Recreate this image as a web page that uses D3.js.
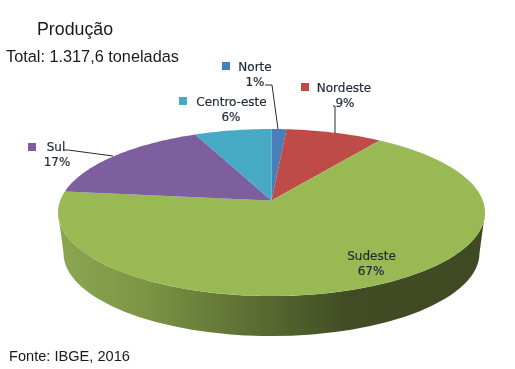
<!DOCTYPE html>
<html>
<head>
<meta charset="utf-8">
<script src="https://cdn.jsdelivr.net/npm/d3@7"></script>
<style>
html, body { margin: 0; padding: 0; background: #fff; }
svg { display: block; filter: blur(0.35px); }
.note { font-family: "Liberation Sans", Arial, sans-serif; fill: #1a1a1a; }
.lbl { font-family: "DejaVu Sans", sans-serif; font-size: 12px; fill: #1f2a36; text-anchor: middle; stroke: #1f2a36; stroke-width: 0.2px; }
</style>
</head>
<body>
<svg id="chart" width="515" height="369"></svg>
<script>
// values, the printed labels are rounded in the source
var regions = ["Norte", "Nordeste", "Sudeste", "Sul", "Centro-este"];
var shares = [1.3, 8.4, 67.1, 16.5, 6.7];
var shareLabels = ["1%", "9%", "67%", "17%", "6%"];
var sliceColors = ["#4a7ebb", "#be4b48", "#98b954", "#7d5fa0", "#46aac5"];

var svg = d3.select("#chart");

// top face: an ellipse seen in perspective, so the apex sits above its centre
var cx = 271.5, cy = 212.5, rx = 213.5, ry = 83.5, apexUp = 12;
var k = apexUp * 2 / (ry * 2);
var ax = rx * Math.sqrt(1 - k * k);

function project(theta) {
    var u = Math.sin(theta), v = Math.cos(theta), w = 1 + k * v;
    return [cx + ax * u / w, cy + (-ry * v - apexUp) / w];
}

// wall under the pie
var defs = svg.append("defs");
var grad = defs.append("linearGradient").attr("id", "wall")
    .attr("gradientUnits", "userSpaceOnUse")
    .attr("x1", 58).attr("x2", 485).attr("y1", 0).attr("y2", 0);
[[0, "#8ca650"], [0.2, "#7d9546"], [0.48, "#586a30"], [0.68, "#414c24"], [1, "#3f4a22"]].forEach(function (s) {
    grad.append("stop").attr("offset", s[0]).attr("stop-color", s[1]);
});

var botY = 253, botRx = 208, botRy = 83;
svg.append("path")
    .attr("d", "M" + (cx - rx) + "," + cy +
        "L" + (cx - botRx) + "," + botY +
        "A" + botRx + "," + botRy + " 0 0 0 " + (cx + botRx) + "," + botY +
        "L" + (cx + rx) + "," + cy +
        "A" + rx + "," + ry + " 0 0 1 " + (cx - rx) + "," + cy + "Z")
    .attr("fill", "url(#wall)");

// slices
var pie = d3.pie().sort(null).value(function (d) { return d; });
var arcs = pie(shares);
var line = d3.line();

svg.selectAll("path.slice")
    .data(arcs)
    .enter()
    .append("path")
    .attr("class", "slice")
    .attr("d", function (d) {
        var pts = [[cx, cy - apexUp]];
        var n = Math.max(4, Math.ceil((d.endAngle - d.startAngle) * 60));
        for (var i = 0; i <= n; i++) {
            pts.push(project(d.startAngle + (d.endAngle - d.startAngle) * i / n));
        }
        return line(pts) + "Z";
    })
    .attr("fill", function (d, i) { return sliceColors[i]; });

// label placement, same order as regions
var labelPos = [
    { x: 255, y: 71, key: [222, 62], px: 255, py: 86 },
    { x: 344, y: 92, key: [301, 83], px: 345, py: 107 },
    { x: 371.5, y: 260, key: null, px: 371, py: 275 },
    { x: 56, y: 151, key: [28, 143], px: 57, py: 166 },
    { x: 231.5, y: 106, key: [179, 97], px: 231, py: 121 }
];

svg.selectAll("rect.key")
    .data(labelPos.filter(function (d) { return d.key; }))
    .enter()
    .append("rect")
    .attr("class", "key")
    .attr("x", function (d) { return d.key[0]; })
    .attr("y", function (d) { return d.key[1]; })
    .attr("width", 8)
    .attr("height", 8)
    .attr("fill", function (d) { return sliceColors[labelPos.indexOf(d)]; });

svg.selectAll("text.name")
    .data(regions)
    .enter()
    .append("text")
    .attr("class", "lbl name")
    .attr("x", function (d, i) { return labelPos[i].x; })
    .attr("y", function (d, i) { return labelPos[i].y; })
    .text(function (d) { return d; });

svg.selectAll("text.pct")
    .data(shareLabels)
    .enter()
    .append("text")
    .attr("class", "lbl pct")
    .attr("x", function (d, i) { return labelPos[i].px; })
    .attr("y", function (d, i) { return labelPos[i].py; })
    .text(function (d) { return d; });

// leader lines
var leaders = [
    [[265, 85], [272, 85], [278, 129]],
    [[333, 106], [335, 106], [335, 133]],
    [[63, 150], [68, 150], [113, 156]]
];
svg.selectAll("path.leader")
    .data(leaders)
    .enter()
    .append("path")
    .attr("class", "leader")
    .attr("d", line)
    .attr("fill", "none")
    .attr("stroke", "#2b2b2b")
    .attr("stroke-width", 1);

// notes
svg.append("text").attr("class", "note").attr("x", 37).attr("y", 35).attr("font-size", 17.8).text("Produção");
svg.append("text").attr("class", "note").attr("x", 6).attr("y", 62).attr("font-size", 16.3).text("Total: 1.317,6 toneladas");
svg.append("text").attr("class", "note").attr("x", 9).attr("y", 361).attr("font-size", 14.6).text("Fonte: IBGE, 2016");
</script>
</body>
</html>
